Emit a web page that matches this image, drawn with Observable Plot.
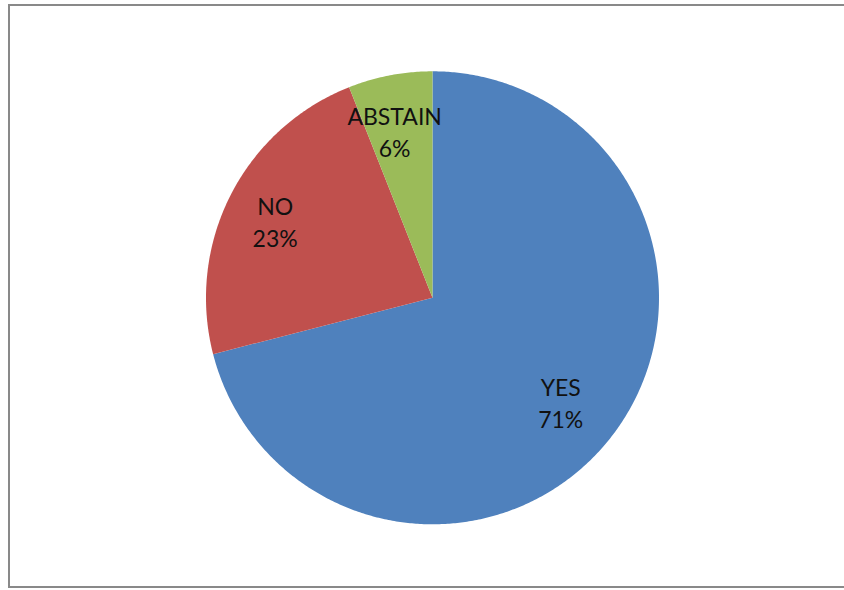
<!DOCTYPE html>
<html>
<head>
<meta charset="utf-8">
<script src="https://cdn.jsdelivr.net/npm/d3@7"></script>
<script src="https://cdn.jsdelivr.net/npm/@observablehq/plot@0.6"></script>
<style>
  html, body { margin: 0; padding: 0; background: #fff; overflow: hidden; }
  #wrap { position: relative; width: 844px; height: 590px; }
  #border { position: absolute; left: 8px; top: 4px; width: 900px; height: 584px; box-sizing: border-box;
            border: 2px solid #898989; pointer-events: none; }
  #chart { position: absolute; left: 0; top: 0; }
</style>
</head>
<body>
<div id="wrap"><div id="chart"></div><div id="border"></div></div>
<script>
const categories = ["YES", "NO", "ABSTAIN"];
const shares = [71, 23, 6];
const colors = ["#4F81BD", "#C0504D", "#9BBB59"];

// Build slice polygons (unit circle, start at 12 o'clock, clockwise)
const total = d3.sum(shares);
const polyPoints = [];
const labels = [];
let acc = 0;
categories.forEach((c, i) => {
  const a0 = acc / total * 2 * Math.PI;
  acc += shares[i];
  const a1 = acc / total * 2 * Math.PI;
  polyPoints.push({label: c, x: 0, y: 0});
  const n = Math.max(2, Math.ceil((a1 - a0) / (Math.PI / 360)));
  for (let k = 0; k <= n; k++) {
    const a = a0 + (a1 - a0) * k / n;
    polyPoints.push({label: c, x: Math.sin(a), y: Math.cos(a)});
  }
  polyPoints.push({label: c, x: 0, y: 0});
  const am = (a0 + a1) / 2;
  const r = 0.75;
  labels.push({label: c, text: `${c}\n${shares[i]}%`, x: r * Math.sin(am), y: r * Math.cos(am)});
});

const chart = Plot.plot({
  width: 844,
  height: 590,
  marginLeft: 205.5,
  marginRight: 185.5,
  marginTop: 70.8,
  marginBottom: 66.2,
  x: {domain: [-1, 1], axis: null},
  y: {domain: [-1, 1], axis: null},
  color: {domain: categories, range: colors},
  style: {background: "transparent", fontFamily: "Lato, 'Open Sans', sans-serif"},
  marks: [
    Plot.line(polyPoints, {x: "x", y: "y", z: "label", fill: "label", stroke: "none", curve: "linear"}),
    Plot.text(labels, {x: "x", y: "y", text: "text", dx: -6, fontSize: 23, lineHeight: 1.38, fill: "#111", fontFamily: "Lato, 'Open Sans', sans-serif"})
  ]
});
document.getElementById("chart").appendChild(chart);
</script>
</body>
</html>
